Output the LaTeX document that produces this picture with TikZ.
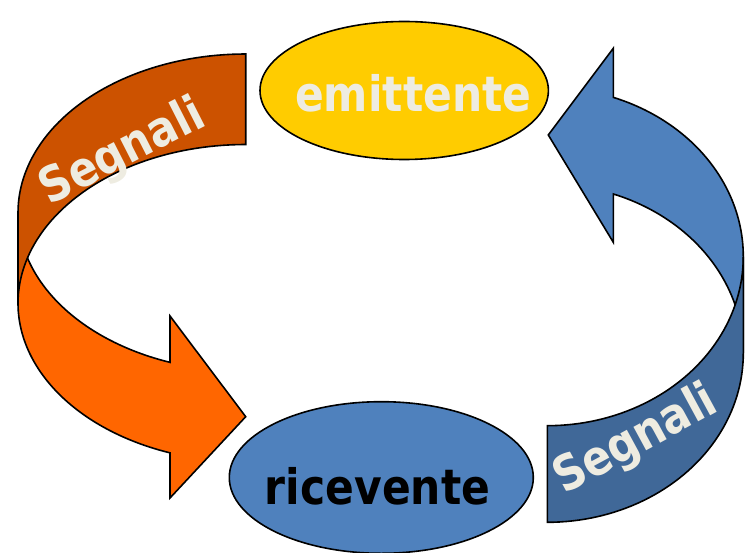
\documentclass[tikz,border=0pt]{standalone}
\usepackage{fontspec}
\newfontfamily\lblfont{DejaVu Sans}[FakeStretch=0.87]
\usetikzlibrary{shapes.geometric}
\definecolor{orfront}{HTML}{FF6600}
\definecolor{orback}{HTML}{CC5200}
\definecolor{blfront}{HTML}{4F81BD}
\definecolor{blback}{HTML}{406898}
\definecolor{yel}{HTML}{FFCC00}
\definecolor{txtw}{HTML}{EEECE1}
\tikzset{
  outl/.style={draw=black, line width=1.6pt, line join=miter},
  bubble/.style={ellipse, outl, inner sep=0pt},
  lbl/.style={inner sep=0pt, anchor=base, font=\lblfont\bfseries\fontsize{48.8}{58}\selectfont},
}
\begin{document}
\begin{tikzpicture}[x=1pt, y=-1pt]
\useasboundingbox (0,0) rectangle (751,553);
% ellipses
\node[bubble, fill=yel, minimum width=288.4pt, minimum height=138pt] (emit) at (404.2,90.5) {};
\node[bubble, fill=blfront, minimum width=304pt, minimum height=151.6pt] (ricv) at (381.3,477.5) {};
\node[lbl, text=txtw] (emittxt) at (413.3,111.2) {emittente};
\node[lbl, text=black] (ricvtxt) at (377.5,504.5) {ricevente};
% orange curved arrow: front part
\filldraw[outl, fill=orfront]
  plot[domain=180:109.42, samples=50, variable=\t] ({245.7+227.7*cos(\t)}, {212.7+158.7*sin(\t)})
  -- (170,316) -- (245.7,416.7) -- (170,498)
  -- plot[domain=109.42:180, samples=50, variable=\t] ({245.7+227.7*cos(\t)}, {303.2+158.7*sin(\t)})
  -- cycle;
% orange back band
\filldraw[outl, fill=orback]
  plot[domain=270:180, samples=50, variable=\t] ({245.7+227.7*cos(\t)}, {212.7+158.7*sin(\t)})
  -- plot[domain=180:270, samples=50, variable=\t] ({245.7+227.7*cos(\t)}, {303.2+158.7*sin(\t)})
  -- cycle;
% blue curved arrow: front part
\filldraw[outl, fill=blfront]
  plot[domain=360:289.68, samples=50, variable=\t] ({547.3+196*cos(\t)}, {353.2+169.1*sin(\t)})
  -- (613.3,242.3) -- (548.3,135) -- (613.3,48.3)
  -- plot[domain=289.68:360, samples=50, variable=\t] ({547.3+196*cos(\t)}, {256.6+169.1*sin(\t)})
  -- cycle;
% blue back band
\filldraw[outl, fill=blback]
  plot[domain=0:90, samples=50, variable=\t] ({547.3+196*cos(\t)}, {353.2+169.1*sin(\t)})
  -- plot[domain=90:0, samples=50, variable=\t] ({547.3+196*cos(\t)}, {256.6+169.1*sin(\t)})
  -- cycle;
% labels on bands
\node[lbl, text=txtw, rotate=27] (sigL) at (129,165) {Segnali};
\node[lbl, text=txtw, rotate=28.5] (sigR) at (642.6,452.5) {Segnali};
\end{tikzpicture}
\end{document}
